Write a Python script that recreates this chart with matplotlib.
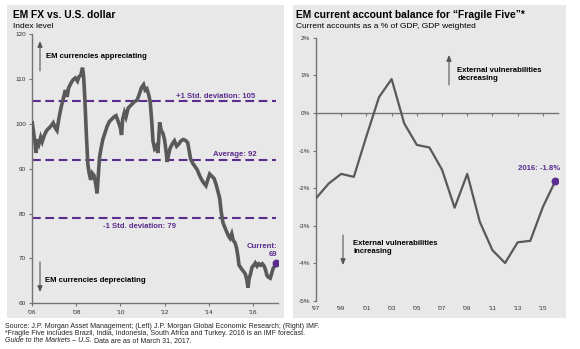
import matplotlib
matplotlib.use('Agg')
import matplotlib.pyplot as plt
from matplotlib.patches import Rectangle

plt.rcParams['font.family'] = ['Liberation Sans', 'DejaVu Sans']

# ---- left panel: EM FX vs. U.S. dollar (index level) ----
fx_year = [2006.00, 2006.05, 2006.12, 2006.17, 2006.22, 2006.30, 2006.38, 2006.45, 2006.55, 2006.65,
           2006.75, 2006.85, 2006.95, 2007.05, 2007.12, 2007.20, 2007.30, 2007.40, 2007.50, 2007.58,
           2007.65, 2007.75, 2007.85, 2007.95, 2008.05, 2008.12, 2008.20, 2008.28, 2008.33, 2008.38,
           2008.45, 2008.52, 2008.58, 2008.65, 2008.72, 2008.80, 2008.88, 2008.94, 2009.00, 2009.05,
           2009.12, 2009.20, 2009.30, 2009.40, 2009.50, 2009.60, 2009.70, 2009.80, 2009.90, 2010.00,
           2010.05, 2010.10, 2010.18, 2010.25, 2010.35, 2010.45, 2010.55, 2010.65, 2010.75, 2010.85,
           2010.95, 2011.05, 2011.12, 2011.20, 2011.28, 2011.35, 2011.42, 2011.48, 2011.55, 2011.62,
           2011.70, 2011.78, 2011.85, 2011.92, 2012.00, 2012.08, 2012.12, 2012.18, 2012.25, 2012.35,
           2012.45, 2012.55, 2012.65, 2012.75, 2012.85, 2012.95, 2013.05, 2013.12, 2013.18, 2013.28,
           2013.38, 2013.48, 2013.58, 2013.68, 2013.78, 2013.88, 2013.96, 2014.05, 2014.15, 2014.25,
           2014.34, 2014.42, 2014.50, 2014.57, 2014.65, 2014.73, 2014.80, 2014.90, 2014.97, 2015.05,
           2015.12, 2015.20, 2015.27, 2015.33, 2015.38, 2015.45, 2015.52, 2015.60, 2015.67, 2015.73,
           2015.79, 2015.84, 2015.90, 2015.97, 2016.05, 2016.12, 2016.20, 2016.28, 2016.36, 2016.44,
           2016.52, 2016.58, 2016.65, 2016.72, 2016.80, 2016.87, 2016.93, 2017.00, 2017.05]
fx_level = [100.2, 98.5, 96.0, 93.5, 96.5, 95.5, 97.0, 96.0, 97.5, 98.5,
            99.0, 99.5, 100.2, 99.0, 98.5, 101.0, 103.5, 105.5, 107.5, 106.0,
            108.0, 109.0, 109.8, 110.2, 109.5, 110.5, 110.8, 112.5, 110.5, 106.0,
            98.0, 91.0, 89.0, 87.5, 89.0, 88.5, 86.5, 84.5, 89.0, 92.5,
            94.5, 96.5, 98.0, 99.5, 100.5, 101.0, 101.5, 101.8, 100.5, 99.0,
            97.5, 101.0, 102.5, 101.5, 103.5, 104.0, 104.5, 105.0, 105.2, 106.5,
            108.0, 108.7, 107.5, 107.8, 106.5, 105.0, 100.5, 96.0, 94.5, 95.0,
            93.5, 100.3, 98.5, 98.0, 96.5, 93.5, 91.5, 93.0, 94.5, 95.5,
            96.2, 95.0, 95.5, 96.2, 96.5, 96.3, 95.8, 94.0, 92.2, 91.2,
            90.5, 89.8, 88.6, 87.6, 86.8, 86.2, 87.5, 88.8, 88.3, 87.8,
            86.5, 85.0, 83.5, 80.5, 78.0, 77.0, 76.2, 75.0, 74.5, 75.5,
            74.0, 73.5, 72.3, 70.5, 68.5, 68.0, 67.5, 67.0, 66.5, 65.3,
            63.5, 65.5, 66.5, 68.0, 68.5, 69.0, 68.3, 68.8, 68.5, 68.8,
            68.3, 67.5, 66.2, 65.8, 65.6, 66.8, 67.8, 68.3, 69.0]
fx_ticks = [2006, 2008, 2010, 2012, 2014, 2016]
fx_tick_labels = ["'06", "'08", "'10", "'12", "'14", "'16"]
fx_yticks = [60, 70, 80, 90, 100, 110, 120]
fx_plus_sd = 105
fx_average = 92
fx_minus_sd = 79
fx_current = 69

# ---- right panel: current account balance, "Fragile Five" ----
ca_year = [1997, 1998, 1999, 2000, 2001, 2002, 2003, 2004, 2005, 2006,
           2007, 2008, 2009, 2010, 2011, 2012, 2013, 2014, 2015, 2016]
ca_pct = [-2.27, -1.88, -1.62, -1.70, -0.62, 0.42, 0.90, -0.28, -0.85, -0.92,
          -1.51, -2.52, -1.62, -2.90, -3.65, -3.99, -3.44, -3.40, -2.50, -1.80]
ca_ticks = [1997, 1999, 2001, 2003, 2005, 2007, 2009, 2011, 2013, 2015]
ca_tick_labels = ["'97", "'99", "'01", "'03", "'05", "'07", "'09", "'11", "'13", "'15"]
ca_yticks = [-5, -4, -3, -2, -1, 0, 1, 2]

PURPLE = '#5b2d8e'
LINE = '#595959'
SPINE = '#737373'
PANEL = '#e8e8e8'

W, H = 580, 349
fig = plt.figure(figsize=(W / 100, H / 100), dpi=100)


def fx_(px):
    return px / W


def fy_(py):
    return 1 - py / H


# grey panel backgrounds (behind the axes)
for x0, x1 in [(7, 284), (293, 566)]:
    fig.patches.append(Rectangle((fx_(x0), fy_(318)), fx_(x1 - x0), (318 - 5) / H,
                                 transform=fig.transFigure, facecolor=PANEL,
                                 edgecolor='none', zorder=-5))

# ---------------- left chart ----------------
ax1 = fig.add_axes([fx_(32.3), fy_(303.3), fx_(278 - 32.3), (303.3 - 34) / H])
ax1.set_facecolor('none')
ax1.plot(fx_year, fx_level, color=LINE, lw=2.6, solid_joinstyle='miter', zorder=3)
for lvl in [fx_plus_sd, fx_average, fx_minus_sd]:
    ax1.plot([2006, fx_year[-1]], [lvl, lvl], color=PURPLE, lw=1.5,
             dashes=(4.2, 2.2), zorder=2)
ax1.scatter([fx_year[-1]], [fx_current], s=22, color=PURPLE, zorder=4)
ax1.set_xlim(2006, 2017.15)
ax1.set_ylim(60, 120)
ax1.set_xticks(fx_ticks)
ax1.set_xticklabels(fx_tick_labels)
ax1.set_yticks(fx_yticks)
for s in ['top', 'right']:
    ax1.spines[s].set_visible(False)
for s in ['left', 'bottom']:
    ax1.spines[s].set_color(SPINE)
    ax1.spines[s].set_linewidth(1)
ax1.tick_params(axis='both', labelsize=4.6, colors=SPINE, labelcolor='#333333',
                length=2, width=0.8, pad=2.5)

bold = dict(fontsize=5.6, fontweight='bold')
ax1.text(2014.31, fx_plus_sd + 1.1, '+1 Std. deviation: 105', color=PURPLE,
         ha='center', va='center', **bold)
ax1.text(2015.17, fx_average + 1.1, 'Average: 92', color=PURPLE,
         ha='center', va='center', **bold)
ax1.text(2010.87, fx_minus_sd - 1.9, '-1 Std. deviation: 79', color=PURPLE,
         ha='center', va='center', **bold)
ax1.text(2017.13, fx_current + 2.8, 'Current:\n' + str(fx_current), color=PURPLE,
         ha='right', va='center', multialignment='right', linespacing=1.3, **bold)

# ---------------- right chart ----------------
ax2 = fig.add_axes([fx_(316), fy_(301), fx_(558 - 316), (301 - 37.7) / H])
ax2.set_facecolor('none')
ax2.plot(ca_year, ca_pct, color=LINE, lw=1.6, zorder=3)
ax2.scatter([ca_year[-1]], [ca_pct[-1]], s=22, color=PURPLE, zorder=4)
ax2.set_xlim(1997, 2016.2)
ax2.set_ylim(-5, 2)
ax2.set_yticks(ca_yticks)
ax2.set_yticklabels([f'{v}%' for v in ca_yticks])
ax2.set_xticks(ca_ticks)
ax2.set_xticklabels(ca_tick_labels)
for s in ['top', 'right', 'bottom']:
    ax2.spines[s].set_visible(False)
ax2.spines['left'].set_color(SPINE)
ax2.spines['left'].set_linewidth(1)
ax2.tick_params(axis='y', labelsize=4.6, colors=SPINE, labelcolor='#333333',
                length=2, width=0.8, pad=2.5)
ax2.tick_params(axis='x', labelsize=4.6, labelcolor='#333333', length=0, pad=3.5)

# zero line carrying the x tick marks
zero_at = (0 - ax2.get_ylim()[0]) / (ax2.get_ylim()[1] - ax2.get_ylim()[0])
sec = ax2.secondary_xaxis(zero_at)
sec.set_alignment('bottom')
sec.set_xticks(ca_ticks)
sec.tick_params(axis='x', labelbottom=False, labeltop=False, length=2, width=0.8,
                colors=SPINE, direction='out')
sec.spines['bottom'].set_color(SPINE)
sec.spines['bottom'].set_linewidth(1)

ax2.text(2016.37, -1.47, '2016: -1.8%', color=PURPLE, ha='right', va='center', **bold)
ax2.text(2008.2, 1.03, 'External vulnerabilities\ndecreasing', color='black',
         ha='left', va='center', linespacing=1.25, **bold)
ax2.text(1999.94, -3.57, 'External vulnerabilities\nincreasing', color='black',
         ha='left', va='center', linespacing=1.25, **bold)

# arrows and side notes (figure coordinates)
arrow = dict(arrowstyle='-|>,head_length=0.35,head_width=0.15', color='#555555',
             lw=0.8, shrinkA=0, shrinkB=0)
for x, ya, yb in [(40, 71, 41), (40, 262, 292), (449, 85, 55), (343, 235, 265)]:
    fig.add_artist(plt.Annotation('', xy=(fx_(x), fy_(yb)), xytext=(fx_(x), fy_(ya)),
                                  xycoords='figure fraction', textcoords='figure fraction',
                                  arrowprops=arrow))
fig.text(fx_(46), fy_(57), 'EM currencies appreciating', ha='left', va='center', **bold)
fig.text(fx_(45), fy_(280), 'EM currencies depreciating', ha='left', va='center', **bold)

# titles
fig.text(fx_(13), fy_(15), 'EM FX vs. U.S. dollar', fontsize=7.4, fontweight='bold',
         ha='left', va='center')
fig.text(fx_(13), fy_(26), 'Index level', fontsize=6, ha='left', va='center')
fig.text(fx_(296), fy_(15), 'EM current account balance for \u201cFragile Five\u201d*',
         fontsize=7.4, fontweight='bold', ha='left', va='center')
fig.text(fx_(296), fy_(27), 'Current accounts as a % of GDP, GDP weighted', fontsize=6,
         ha='left', va='center')

# footer
foot = dict(fontsize=5.0, ha='left', va='center', color='#222222')
fig.text(fx_(5), fy_(326), 'Source: J.P. Morgan Asset Management; (Left) J.P. Morgan Global '
         'Economic Research; (Right) IMF.', **foot)
fig.text(fx_(5), fy_(333.5), '*Fragile Five includes Brazil, India, Indonesia, South Africa and '
         'Turkey. 2016 is an IMF forecast.', **foot)
guide = fig.text(fx_(5), fy_(341), 'Guide to the Markets \u2013 U.S.', style='italic', **foot)
fig.canvas.draw()
bb = guide.get_window_extent()
fig.text(bb.x1 / W, fy_(341), ' Data are as of March 31, 2017.', **foot)

fig.savefig('out.png', dpi=100)
